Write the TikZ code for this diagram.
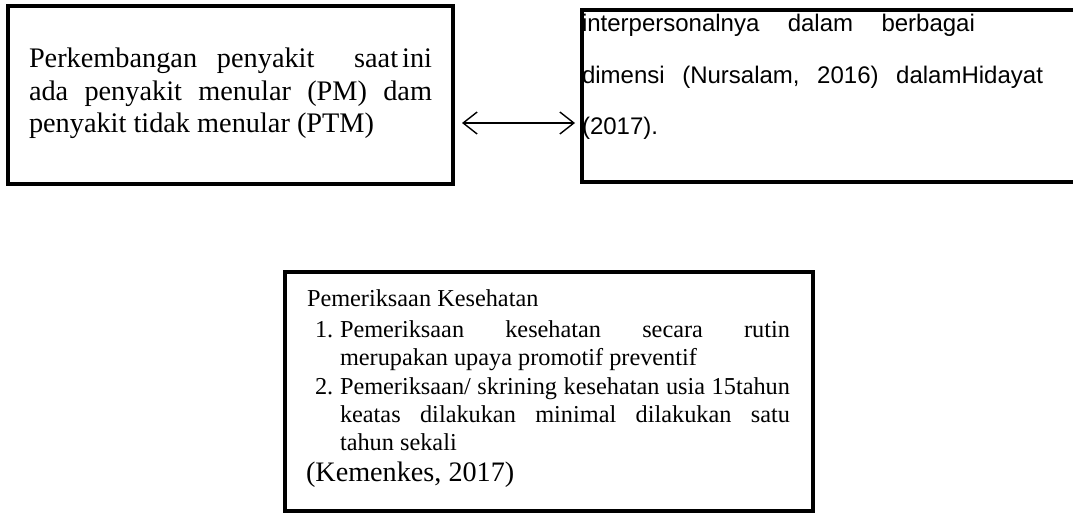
\documentclass[tikz,border=0pt]{standalone}
\usepackage{fontspec}
\setmainfont{Liberation Serif}
\newfontfamily\arialf{Liberation Sans}
\usetikzlibrary{arrows.meta}
\tikzset{
  box/.style={draw, line width=4pt, inner sep=0pt, outer sep=0pt},
  txt/.style={anchor=base west, inner sep=0pt, outer sep=0pt},
  lt/.style={txt, font=\fontsize{28.3}{33}\selectfont},
  rt/.style={txt, font=\arialf\fontsize{24}{26}\selectfont},
  bt/.style={txt, font=\fontsize{24.3}{28}\selectfont},
  kt/.style={txt, font=\fontsize{28.2}{32}\selectfont},
  arr/.style={{Straight Barb[length=14pt,width=22pt]}-{Straight Barb[length=14pt,width=22pt]}, line width=1.4pt}
}
\begin{document}
\begin{tikzpicture}[x=1pt,y=-1pt]
\useasboundingbox (0,0) rectangle (1073,514);
\clip (0,0) rectangle (1073,514);
% boxes
\node[box, minimum width=445pt, minimum height=178pt] (L) at (230.5,95) {};
\node[box, minimum width=513pt, minimum height=172pt] (R) at (838.5,96) {};
\node[box, minimum width=528pt, minimum height=239pt] (B) at (549,391.5) {};
% left text
\node[lt] (l1) at (29,67) {\hbox to 403pt{Perkembangan\hfill penyakit\hfill\hfill saat\hspace{4pt}ini}};
\node[lt] (l2) at (29,100) {\hbox to 403pt{ada\hfill penyakit\hfill menular\hfill (PM)\hfill dam}};
\node[lt] (l3) at (29,132) {penyakit tidak menular (PTM)};
% right text
\node[rt] (r1) at (582,31) {\hbox to 393pt{interpersonalnya\hfill dalam\hfill berbagai}};
\node[rt] (r2) at (582,83) {\hbox to 461pt{dimensi\hfill (Nursalam,\hfill 2016)\hfill dalamHidayat}};
\node[rt] (r3) at (582,134) {(2017).};
% arrow
\draw[arr] ([xshift=9pt,yshift=-28pt]L.east) -- ([xshift=-7pt,yshift=-27pt]R.west);
% bottom text
\node[bt] (b0) at (307,306) {Pemeriksaan Kesehatan};
\node[bt] (n1) at (315,337) {1.};
\node[bt] (b1) at (340,337) {\hbox to 450pt{Pemeriksaan\hfill kesehatan\hfill secara\hfill rutin}};
\node[bt] (b2) at (340,365) {merupakan upaya promotif preventif};
\node[bt] (n2) at (315,394) {2.};
\node[bt] (b3) at (340,394) {\hbox to 450pt{Pemeriksaan/\hfill skrining\hfill kesehatan\hfill usia\hfill 15tahun}};
\node[bt] (b4) at (340,422) {\hbox to 450pt{keatas\hfill dilakukan\hfill minimal\hfill dilakukan\hfill satu}};
\node[bt] (b5) at (340,450) {tahun sekali};
\node[kt] (k) at (306,481) {(Kemenkes, 2017)};
\end{tikzpicture}
\end{document}
